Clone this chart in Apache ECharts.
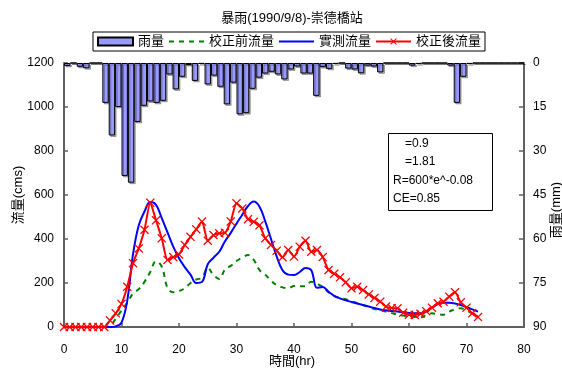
<!DOCTYPE html>
<html>
<head>
<meta charset="utf-8">
<script src="https://cdn.jsdelivr.net/npm/echarts@6/dist/echarts.min.js"></script>
<style>
  html, body { margin: 0; padding: 0; background: #fff; }
  #chart { width: 562px; height: 369px; }
</style>
</head>
<body>
<div id="chart"></div>
<script>
// Hourly time steps (hr) for the discharge series
const hours = [0,1,2,3,4,5,6,7,8,9,10,11,12,13,14,15,16,17,18,19,20,21,22,23,24,25,26,27,28,29,30,
  31,32,33,34,35,36,37,38,39,40,41,42,43,44,45,46,47,48,49,50,51,52,53,54,55,56,57,58,59,60,
  61,62,63,64,65,66,67,68,69,70,71,72];

// Discharge before calibration (cms)
const flowBefore = [0,0,0,0,0,0,0,0,5,38,75,110,152,172,205,250,298,275,178,158,163,176,200,216,224,
  268,236,218,262,278,300,316,327,305,259,238,210,190,180,176,186,185,186,206,196,183,158,140,132,
  126,118,108,100,90,82,76,70,63,56,52,48,46,44,54,62,58,56,70,80,85,75,62,50];

// Observed discharge (cms)
const flowObserved = [0,0,0,0,0,0,0,0,0,3,20,120,330,462,525,568,555,495,430,365,312,272,238,200,205,
  285,315,342,390,428,470,510,550,570,547,480,400,320,258,238,236,250,268,258,178,182,160,142,130,
  121,114,107,100,93,86,80,76,73,70,67,64,62,62,70,88,104,110,110,107,100,90,80,70];

// Discharge after calibration (cms)
const flowAfter = [0,0,0,0,0,0,0,0,30,62,105,183,290,357,442,565,485,403,305,318,330,373,410,444,479,
  392,418,426,428,480,562,539,490,478,462,403,373,347,317,350,320,365,392,342,350,318,259,242,226,
  203,176,183,168,148,132,115,93,86,85,65,56,55,60,72,88,108,115,138,158,112,88,62,45];

// Hourly rainfall (mm), one bar per hour
const rainHours = [1,2,3,4,5,6,7,8,9,10,11,12,13,14,15,16,17,18,19,20,21,22,23,24,25,26,27,28,29,30,
  31,32,33,34,35,36,37,38,39,40,41,42,43,44,45,46,47,48,49,50,51,52,53,54,55,56,57,58,59,60,
  61,62,63,64,65,66,67,68,69,70,71,72];
const rainfall = [1,0,1.3,1.8,0,0,13.6,24.7,15,38.5,40.8,20.1,14.6,13.1,13.6,12.9,3.9,9.0,4.7,0.7,
  6.1,0.3,7.3,4.3,8.1,14.1,6.7,17.5,17.1,8.8,5.0,3.6,3.0,3.9,5.6,2.2,1.2,3.6,3.6,11.2,
  1.4,2.0,0.3,0,1.9,2.2,3.5,0.9,1.2,3.2,0,0,0,0,0.9,0.3,0,0,0,0,
  0.9,13.6,4.7,0.3,0,0,0,0,0,0,0,0];

// Calibration parameters shown in the note box
const noteLines = ['=0.9', '=1.81', 'R=600*e^-0.08', 'CE=0.85'];

const FONT = "'Liberation Sans', 'Noto Sans CJK TC', Arial, sans-serif";
const AXIS_COLOR = '#606060';
const CROSS = 'path://M1,0L5,4L9,0L10,1L6,5L10,9L9,10L5,6L1,10L0,9L4,5L0,1Z';

const pairs = vals => hours.map((h, i) => [h, vals[i]]);
const plain = v => String(v);

const chart = echarts.init(document.getElementById('chart'), null, { renderer: 'canvas' });

chart.setOption({
  animation: false,
  backgroundColor: '#fff',
  textStyle: { fontFamily: FONT },
  grid: { left: 64, right: 38, top: 63, bottom: 42, outerBoundsMode: 'none', containLabel: false },
  legend: {
    left: 93, top: 32,
    orient: 'horizontal',
    borderColor: '#000', borderWidth: 1,
    padding: [3, 4],
    itemGap: 4,
    itemWidth: 35, itemHeight: 8,
    textStyle: { fontSize: 13, color: '#000', fontFamily: FONT },
    data: [
      { name: '雨量', icon: 'rect', itemStyle: { shadowColor: 'transparent' } },
      { name: '校正前流量', itemStyle: { opacity: 0 } },
      { name: '實測流量', itemStyle: { opacity: 0 } },
      { name: '校正後流量' }
    ]
  },
  xAxis: [
    {
      type: 'value', min: 0, max: 80, interval: 10,
      position: 'bottom',
      axisLine: { lineStyle: { color: AXIS_COLOR, width: 2 } },
      axisTick: { inside: true, length: 4, lineStyle: { color: AXIS_COLOR, width: 1.5 } },
      axisLabel: { margin: 17, color: '#000', fontSize: 12, fontFamily: FONT, formatter: plain },
      splitLine: { show: false }
    },
    {
      type: 'category', data: rainHours, position: 'top',
      boundaryGap: true,
      axisLine: { show: true, lineStyle: { color: '#b0b0b0', width: 1 } },
      axisTick: { show: false },
      axisLabel: { show: false },
      splitLine: { show: false }
    }
  ],
  yAxis: [
    {
      type: 'value', min: 0, max: 1200, interval: 200,
      position: 'left',
      axisLine: { show: true, lineStyle: { color: AXIS_COLOR, width: 2 } },
      axisTick: { show: true, inside: true, length: 4, lineStyle: { color: AXIS_COLOR, width: 1.5 } },
      axisLabel: { margin: 10, color: '#000', fontSize: 12, fontFamily: FONT, formatter: plain },
      splitLine: { show: false }
    },
    {
      type: 'value', min: 0, max: 90, interval: 15, inverse: true,
      position: 'right',
      axisLine: { show: true, lineStyle: { color: AXIS_COLOR, width: 2 } },
      axisTick: { show: true, inside: true, length: 5, lineStyle: { color: AXIS_COLOR, width: 1.5 } },
      axisLabel: { margin: 9, color: '#000', fontSize: 12, fontFamily: FONT, formatter: plain },
      splitLine: { show: false }
    }
  ],
  series: [
    {
      name: '雨量', type: 'bar',
      xAxisIndex: 1, yAxisIndex: 1,
      data: rainfall,
      barCategoryGap: '0%',
      itemStyle: {
        color: '#9999FF', borderColor: '#000', borderWidth: 1,
        shadowColor: 'rgba(0,0,0,0.3)', shadowOffsetX: 1.5, shadowOffsetY: 1.5, shadowBlur: 0
      }
    },
    {
      name: '校正前流量', type: 'line',
      xAxisIndex: 0, yAxisIndex: 0,
      data: pairs(flowBefore),
      symbol: 'none', smooth: 0.4,
      lineStyle: { color: '#008000', width: 2, type: [5, 5] },
      itemStyle: { color: '#008000' }
    },
    {
      name: '實測流量', type: 'line',
      xAxisIndex: 0, yAxisIndex: 0,
      data: pairs(flowObserved),
      symbol: 'none', smooth: 0.4,
      lineStyle: { color: '#0000FF', width: 2 },
      itemStyle: { color: '#0000FF' }
    },
    {
      name: '校正後流量', type: 'line',
      xAxisIndex: 0, yAxisIndex: 0,
      data: pairs(flowAfter),
      symbol: CROSS, symbolSize: 9,
      showSymbol: true, showAllSymbol: true,
      smooth: 0.2,
      lineStyle: { color: '#FF0000', width: 2 },
      itemStyle: { color: '#FF0000' }
    }
  ],
  graphic: [
    {
      type: 'text', x: 292, y: 18,
      style: { text: '暴雨(1990/9/8)-崇德橋站', font: '13px ' + FONT, fill: '#000', align: 'center', verticalAlign: 'middle' }
    },
    {
      type: 'text', x: 292, y: 361,
      style: { text: '時間(hr)', font: '13px ' + FONT, fill: '#000', align: 'center', verticalAlign: 'middle' }
    },
    {
      type: 'text', x: 18, y: 195, rotation: Math.PI / 2,
      style: { text: '流量(cms)', font: '13px ' + FONT, fill: '#000', align: 'center', verticalAlign: 'middle' }
    },
    {
      type: 'text', x: 556, y: 210, rotation: Math.PI / 2,
      style: { text: '雨量(mm)', font: '13px ' + FONT, fill: '#000', align: 'center', verticalAlign: 'middle' }
    },
    {
      type: 'rect',
      shape: { x: 388.5, y: 133.5, width: 104, height: 77 },
      style: { fill: '#fff', stroke: '#000', lineWidth: 1 },
      z: 10
    },
    { type: 'text', x: 405, y: 144, z: 11, style: { text: noteLines[0], font: '12px ' + FONT, fill: '#000', verticalAlign: 'middle' } },
    { type: 'text', x: 405, y: 162, z: 11, style: { text: noteLines[1], font: '12px ' + FONT, fill: '#000', verticalAlign: 'middle' } },
    { type: 'text', x: 393, y: 181, z: 11, style: { text: noteLines[2], font: '12px ' + FONT, fill: '#000', verticalAlign: 'middle' } },
    { type: 'text', x: 393, y: 199, z: 11, style: { text: noteLines[3], font: '12px ' + FONT, fill: '#000', verticalAlign: 'middle' } }
  ]
});
</script>
</body>
</html>
